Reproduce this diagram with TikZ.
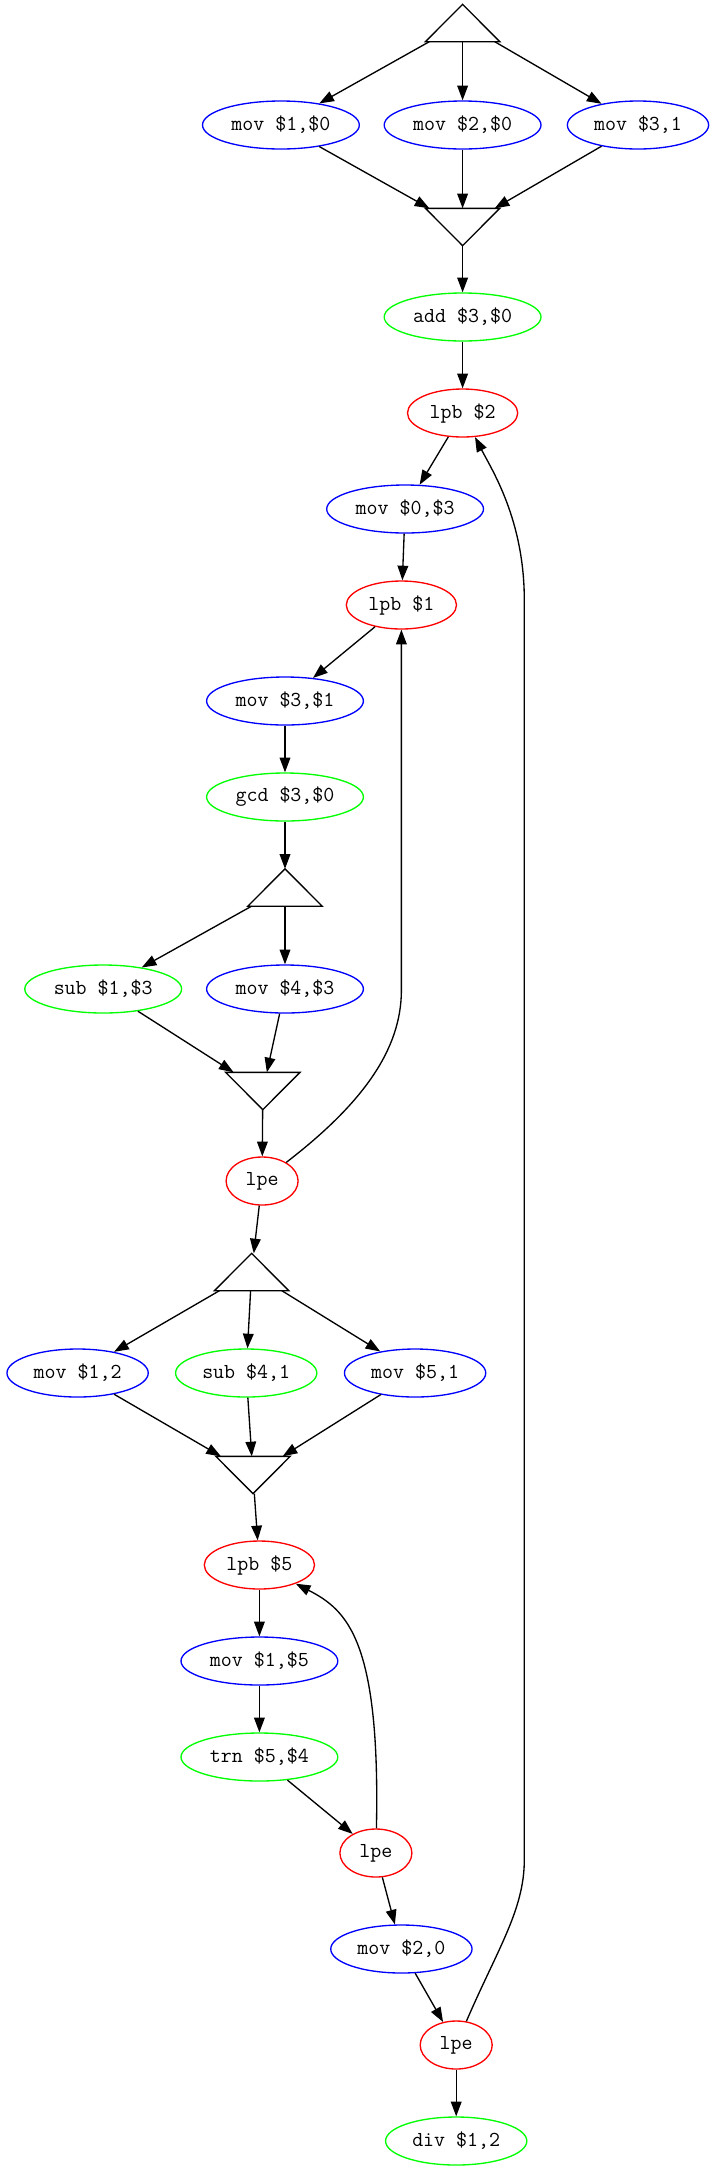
\documentclass[tikz,border=0pt]{standalone}
\usepackage{fontspec}
\usetikzlibrary{shapes.geometric, arrows.meta}
\definecolor{gvblue}{RGB}{0,0,255}
\definecolor{gvred}{RGB}{255,0,0}
\definecolor{gvgreen}{RGB}{0,255,0}
\tikzset{>={Triangle[length=11pt,width=8pt]}}
\tikzset{
  op/.style={ellipse, draw, line width=1pt, minimum width=54pt, minimum height=36pt,
    inner xsep=4.5pt, inner ysep=0pt, font=\ttfamily\fontsize{16}{16}\selectfont},
  movop/.style={op, draw=gvblue},
  arith/.style={op, draw=gvgreen},
  loopop/.style={op, draw=gvred},
  tri/.style={minimum width=54.75pt, minimum height=27pt, inner sep=0pt}
}

\begin{document}
\begin{tikzpicture}[x=0.75pt, y=-0.75pt, line width=1pt]
\useasboundingbox (0,0) rectangle (713,2171);
\node[tri] (fork1) at (462.6,23) {};
\node[movop] (mov1r0) at (280.9,125) {mov \$1,\$0};
\node[movop] (mov2r0) at (462.6,125) {mov \$2,\$0};
\node[movop] (mov31) at (638,125) {mov \$3,1};
\node[tri] (join1) at (462.6,227) {};
\node[arith] (add3r0) at (462.6,317) {add \$3,\$0};
\node[loopop] (lpb2) at (462.6,413) {lpb \$2};
\node[movop] (mov0r3) at (405.1,509) {mov \$0,\$3};
\node[loopop] (lpb1) at (401.4,605) {lpb \$1};
\node[movop] (mov3r1) at (285,701) {mov \$3,\$1};
\node[arith] (gcd3r0) at (285,797) {gcd \$3,\$0};
\node[tri] (fork2) at (285,887.5) {};
\node[arith] (sub1r3) at (103.2,989) {sub \$1,\$3};
\node[movop] (mov4r3) at (285,989) {mov \$4,\$3};
\node[tri] (join2) at (262.8,1091) {};
\node[loopop] (lpe1) at (262.1,1181) {lpe};
\node[tri] (fork3) at (251.6,1272) {};
\node[movop] (mov12) at (77.6,1373) {mov \$1,2};
\node[arith] (sub41) at (246.2,1373) {sub \$4,1};
\node[movop] (mov51) at (415.1,1373) {mov \$5,1};
\node[tri] (join3) at (253,1475) {};
\node[loopop] (lpb5) at (259.4,1565) {lpb \$5};
\node[movop] (mov1r5) at (259.4,1661) {mov \$1,\$5};
\node[arith] (trn5r4) at (259.4,1757) {trn \$5,\$4};
\node[loopop] (lpe2) at (375.9,1853) {lpe};
\node[movop] (mov20) at (401.4,1949) {mov \$2,0};
\node[loopop] (lpe3) at (456.2,2045) {lpe};
\node[arith] (div12) at (456.2,2141) {div \$1,2};

\foreach \t in {fork1,fork2,fork3}
\draw (\t.south west) -- (\t.north) -- (\t.south east) -- cycle;
\foreach \t in {join1,join2,join3}
\draw (\t.north west) -- (\t.south) -- (\t.north east) -- cycle;

\foreach \a/\b in {fork1/mov1r0, fork1/mov2r0, fork1/mov31, mov1r0/join1, mov2r0/join1,
  mov31/join1, join1/add3r0, add3r0/lpb2, lpb2/mov0r3, mov0r3/lpb1, lpb1/mov3r1,
  mov3r1/gcd3r0, gcd3r0/fork2, fork2/sub1r3, fork2/mov4r3, sub1r3/join2, mov4r3/join2,
  join2/lpe1, lpe1/fork3, fork3/mov12, fork3/sub41, fork3/mov51, mov12/join3,
  sub41/join3, mov51/join3, join3/lpb5, lpb5/mov1r5, mov1r5/trn5r4, trn5r4/lpe2,
  lpe2/mov20, mov20/lpe3, lpe3/div12}
\draw[->] (\a) -- (\b);

\coordinate (bend1) at (401.4,990);
\coordinate (loopbot) at (524.3,1860);
\coordinate (looptop) at (524.3,600);
\draw[->] (lpe1) .. controls (362,1104) and (401.4,1050) .. (bend1) -- (lpb1);
\draw[->] (lpe2) .. controls (380.4,1640) and (347,1610) .. (lpb5);
\draw[->] (lpe3) .. controls (497,1950) and (524.3,1910) .. (loopbot) -- (looptop)
  .. controls (524.3,520) and (492,470) .. (lpb2);
\end{tikzpicture}
\end{document}
